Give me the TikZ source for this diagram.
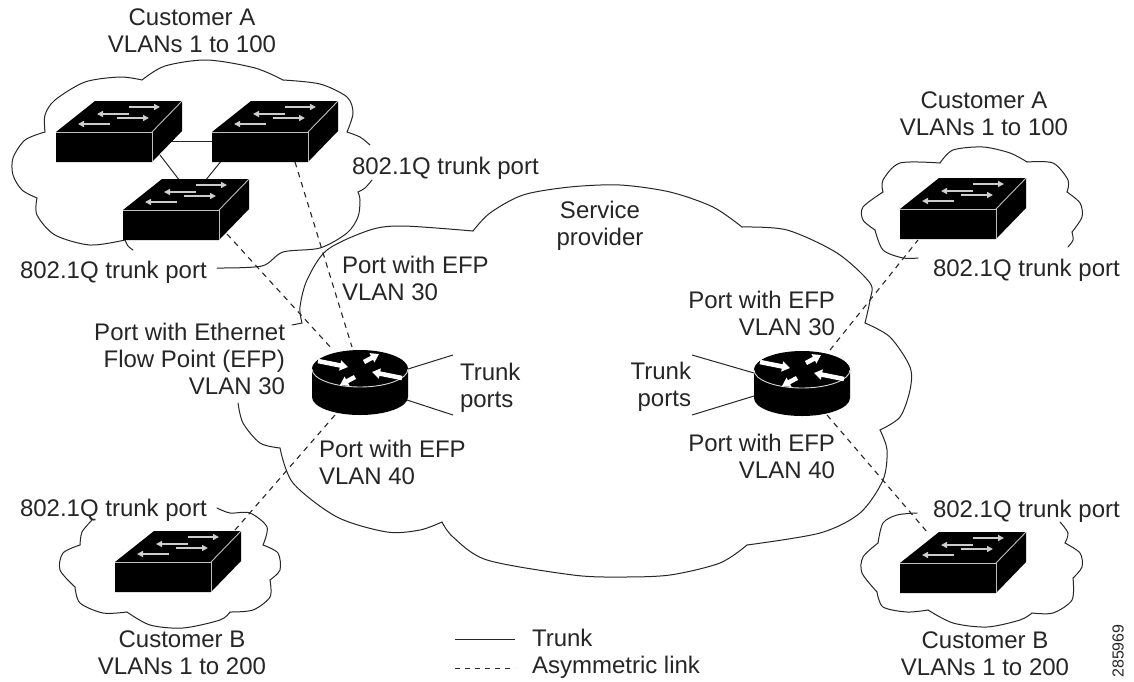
\documentclass[tikz,border=0pt]{standalone}
\usepackage{fontspec}
\setmainfont{Liberation Sans}
\usetikzlibrary{arrows.meta}
\definecolor{inkc}{HTML}{262626}
\tikzset{
  cloudline/.style={draw=inkc,line width=1pt,line cap=round,line join=round},
  trunkline/.style={draw=inkc,line width=1pt},
  asymline/.style={draw=inkc,line width=1.1pt,dash pattern=on 5.5pt off 5pt},
  lbl/.style={inner sep=0pt,outer sep=0pt,text=inkc,font=\fontsize{24}{27}\selectfont,anchor=base},
  arrw/.style={draw=white!80!black,line width=2pt,-{Triangle[width=6pt,length=6pt,fill=white]}},
  rarrw/.style={draw=white,line width=4.5pt,-{Triangle[width=10pt,length=8pt,fill=white]}},
  switchicon/.pic={
    \fill[black] (0,0)--(39,-31)--(126,-31)--(126,-1)--(96,30)--(0,30)--cycle;
    \draw[white!75!black,line width=.9pt] (0,0)--(96,0)--(96,30);
    \draw[white!75!black,line width=.9pt] (96,0)--(126,-31);
    \draw[arrw] (73,-25)--(104,-25);
    \draw[arrw] (73,-18)--(41,-18);
    \draw[arrw] (61,-14)--(93,-14);
    \draw[arrw] (54,-8)--(22,-8);
  },
  routericon/.pic={
    \fill[black] (-48,0)--(-48,28) arc[start angle=180,end angle=0,x radius=48,y radius=18]--(48,0) arc[start angle=0,end angle=-180,x radius=48,y radius=18]--cycle;
    \fill[black] (0,0) ellipse[x radius=48,y radius=19];
    \draw[white!85!black,line width=.9pt] (-48,0) arc[start angle=180,end angle=0,x radius=48,y radius=18];
    \draw[rarrw] (-42,-8)--(-12,-2);
    \draw[rarrw] (4,-7)--(19,-15);
    \draw[rarrw] (42,9)--(12,3);
    \draw[rarrw] (-5,8)--(-20,16);
  }
}
\begin{document}
\begin{tikzpicture}[x=1pt,y=-1pt]
\useasboundingbox (0,0) rectangle (1134,681);
\fill[white] (0,0) rectangle (1134,681);

% link end points
\coordinate (a1e) at (150,141);
\coordinate (a2w) at (214,141);
\coordinate (a1s) at (160,155);
\coordinate (a3n) at (180,181);
\coordinate (a2s) at (222,160);
\coordinate (a3m) at (205,181);
\coordinate (a2d) at (295,162);
\coordinate (r1a) at (352,347);
\coordinate (a3d) at (227,234);
\coordinate (r1b) at (333,350);
\coordinate (r1c) at (335,415);
\coordinate (bld) at (235,530);
\coordinate (r2a) at (830,350);
\coordinate (trd) at (918,240);
\coordinate (r2c) at (827,415);
\coordinate (brd) at (928,533);
\coordinate (r1t) at (408,369);
\coordinate (r1tf) at (453,355);
\coordinate (r1u) at (407,400);
\coordinate (r1uf) at (453,415);
\coordinate (r2t) at (754,373);
\coordinate (r2tf) at (692,355);
\coordinate (r2u) at (754,396);
\coordinate (r2uf) at (692,415);
\coordinate (lgs1) at (455,639);
\coordinate (lgs2) at (515,639);
\coordinate (lgd1) at (455,668);
\coordinate (lgd2) at (515,668);

% cloud: customer A, top left
\draw[cloudline] plot[smooth] coordinates {(370,145)(360,137)(347,132)};
\draw[cloudline] plot[smooth] coordinates {(347,132)(353,113)(347,97)(320,84)(283,80)};
\draw[cloudline] plot[smooth] coordinates {(283,80)(255,68)(207,60)(165,66)(142,80)};
\draw[cloudline] plot[smooth] coordinates {(142,80)(120,77)(85,82)(55,100)(45,115)(45,132)};
\draw[cloudline] plot[smooth] coordinates {(45,132)(25,140)(13,158)(13,175)(22,190)(37,198)};
\draw[cloudline] plot[smooth] coordinates {(37,198)(37,215)(55,235)(90,245)(125,240)};
\draw[cloudline] plot[smooth] coordinates {(125,240)(128,246)(133,250)};
\draw[cloudline] plot[smooth] coordinates {(372,180)(365,188)(358,192)};
\draw[cloudline] plot[smooth] coordinates {(358,192)(360,200)(358,217)(347,233)(320,248)(283,252)(262,266)(217,268)};

% cloud: customer A, top right
\draw[cloudline] plot[smooth] coordinates {(918,258)(903,258)(883,250)(875,230)};
\draw[cloudline] plot[smooth] coordinates {(875,230)(863,220)(863,207)(883,192)};
\draw[cloudline] plot[smooth] coordinates {(883,192)(883,180)(900,163)(940,163)};
\draw[cloudline] plot[smooth] coordinates {(940,163)(953,150)(983,147)(1010,153)(1027,162)};
\draw[cloudline] plot[smooth] coordinates {(1027,162)(1053,163)(1068,180)(1067,192)};
\draw[cloudline] plot[smooth] coordinates {(1067,192)(1080,203)(1082,217)(1072,232)};
\draw[cloudline] plot[smooth] coordinates {(1072,232)(1073,240)(1068,247)};

% cloud: customer B, bottom left
\draw[cloudline] plot[smooth] coordinates {(92,520)(82,532)(80,545)};
\draw[cloudline] plot[smooth] coordinates {(80,545)(63,553)(60,570)(75,587)};
\draw[cloudline] plot[smooth] coordinates {(75,587)(80,603)(103,613)(127,612)};
\draw[cloudline] plot[smooth] coordinates {(127,612)(150,625)(183,628)(220,620)(230,612)};
\draw[cloudline] plot[smooth] coordinates {(230,612)(253,610)(270,597)(270,580)};
\draw[cloudline] plot[smooth] coordinates {(270,580)(280,570)(278,553)(263,545)};
\draw[cloudline] plot[smooth] coordinates {(263,545)(267,527)(250,513)(230,513)(217,508)};

% cloud: customer B, bottom right
\draw[cloudline] plot[smooth] coordinates {(917,513)(897,515)(883,523)(878,543)};
\draw[cloudline] plot[smooth] coordinates {(878,543)(863,557)(862,573)(877,592)};
\draw[cloudline] plot[smooth] coordinates {(877,592)(883,607)(907,612)(928,610)};
\draw[cloudline] plot[smooth] coordinates {(928,610)(953,623)(987,627)(1020,620)(1032,613)};
\draw[cloudline] plot[smooth] coordinates {(1032,613)(1053,613)(1072,600)(1073,578)};
\draw[cloudline] plot[smooth] coordinates {(1073,578)(1082,567)(1080,553)(1065,543)};
\draw[cloudline] plot[smooth] coordinates {(1065,543)(1068,533)(1060,522)};

% cloud: service provider
\draw[cloudline] plot[smooth] coordinates {(292,325)(302,323)};
\draw[cloudline] plot[smooth] coordinates {(302,323)(300,307)(307,280)(327,250)(370,230)(403,226)(473,231)};
\draw[cloudline] plot[smooth] coordinates {(473,231)(490,213)(523,195)(570,187)(620,185)(670,192)(713,207)(742,227)};
\draw[cloudline] plot[smooth] coordinates {(742,227)(787,230)(837,253)(870,283)(870,300)(865,323)};
\draw[cloudline] plot[smooth] coordinates {(865,323)(890,337)(910,367)(910,390)(900,417)(880,430)};
\draw[cloudline] plot[smooth] coordinates {(880,430)(887,450)(883,480)(860,513)(820,533)(747,545)};
\draw[cloudline] plot[smooth] coordinates {(747,545)(720,563)(670,575)(620,577)(573,575)(487,560)(453,537)(442,522)};
\draw[cloudline] plot[smooth] coordinates {(442,522)(420,530)(387,532)(337,517)(293,483)(280,448)};
\draw[cloudline] plot[smooth] coordinates {(280,448)(260,443)(243,423)(238,403)};

% connectors
\draw[trunkline] (a1e)--(a2w);
\draw[trunkline] (a1s)--(a3n);
\draw[trunkline] (a2s)--(a3m);
\draw[asymline] (a2d)--(r1a);
\draw[asymline] (a3d)--(r1b);
\draw[asymline] (r1c)--(bld);
\draw[asymline] (r2a)--(trd);
\draw[asymline] (r2c)--(brd);
\draw[trunkline] (r1t)--(r1tf);
\draw[trunkline] (r1u)--(r1uf);
\draw[trunkline] (r2t)--(r2tf);
\draw[trunkline] (r2u)--(r2uf);
\draw[trunkline] (lgs1)--(lgs2);
\draw[draw=inkc,line width=.9pt,dash pattern=on 5pt off 5pt] (lgd1)--(lgd2);

% devices
\pic (sa1) at (56,132) {switchicon};
\pic (sa2) at (212,132) {switchicon};
\pic (sa3) at (123,210) {switchicon};
\pic (sa4) at (900,209) {switchicon};
\pic (sb1) at (115,562) {switchicon};
\pic (sb2) at (900,563) {switchicon};
\pic (r1) at (360,369) {routericon};
\pic (r2) at (802,370) {routericon};

% labels
\node[lbl,align=center] (t1) at (192,52) {Customer A\\VLANs 1 to 100};
\node[lbl,align=center] (t2) at (984,135) {Customer A\\VLANs 1 to 100};
\node[lbl,anchor=base west] (t3) at (352,174) {802.1Q trunk port};
\node[lbl,anchor=base west] (t4) at (20,278) {802.1Q trunk port};
\node[lbl,anchor=base west] (t5) at (933,276) {802.1Q trunk port};
\node[lbl,anchor=base west] (t6) at (20,516) {802.1Q trunk port};
\node[lbl,anchor=base west] (t7) at (933,517) {802.1Q trunk port};
\node[lbl,align=center] (t8) at (600,245) {Service\\provider};
\node[lbl,align=left,anchor=base west] (t9) at (342,300) {Port with EFP\\VLAN 30};
\node[lbl,align=right,anchor=base east] (t10) at (285,394) {Port with Ethernet\\Flow Point (EFP)\\VLAN 30};
\node[lbl,align=left,anchor=base west] (t11) at (460,407) {Trunk\\ports};
\node[lbl,align=right,anchor=base east] (t12) at (691,406) {Trunk\\ports};
\node[lbl,align=left,anchor=base west] (t13) at (319,484) {Port with EFP\\VLAN 40};
\node[lbl,align=right,anchor=base east] (t14) at (835,335) {Port with EFP\\VLAN 30};
\node[lbl,align=right,anchor=base east] (t15) at (835,478) {Port with EFP\\VLAN 40};
\node[lbl,align=center] (t16) at (182,674) {Customer B\\VLANs 1 to 200};
\node[lbl,align=center] (t17) at (985,675) {Customer B\\VLANs 1 to 200};
\node[lbl,align=left,anchor=base west] (t18) at (532,673) {Trunk\\Asymmetric link};
\node[inner sep=0pt,text=inkc,font=\fontsize{16}{18}\selectfont,rotate=90] (t19) at (1118,651) {285969};
\end{tikzpicture}
\end{document}
